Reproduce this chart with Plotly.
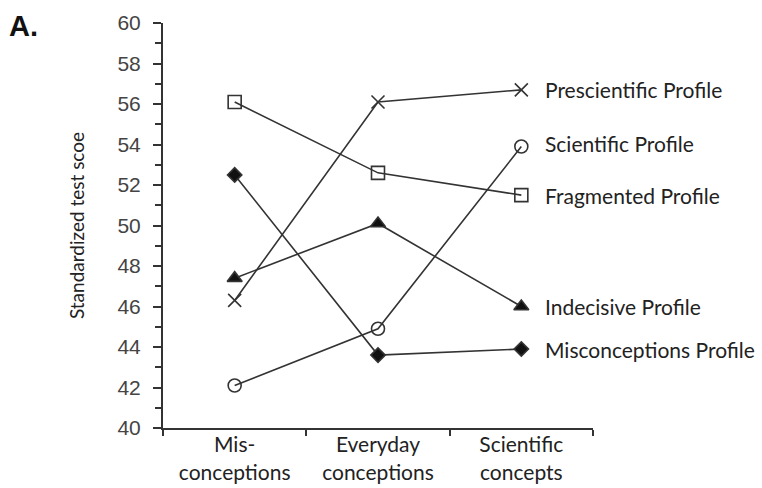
import plotly.graph_objects as go

categories = ["Mis-<br>conceptions", "Everyday<br>conceptions", "Scientific<br>concepts"]
series_names = ["Prescientific Profile", "Scientific Profile", "Fragmented Profile",
                "Indecisive Profile", "Misconceptions Profile"]
prescientific = [46.3, 56.1, 56.7]
scientific = [42.1, 44.9, 53.9]
fragmented = [56.1, 52.6, 51.5]
indecisive = [47.4, 50.1, 46.0]
misconceptions = [52.5, 43.6, 43.9]
y_ticks = list(range(40, 61, 2))

values = [prescientific, scientific, fragmented, indecisive, misconceptions]
symbols = ["x-thin-open", "circle-open", "square-open", "triangle-up", "diamond"]
sizes = [13, 13, 13, 13, 11]
label_dy = [0, -3, 0, 0, 0]

LINE = "#333333"
TXT_FONT = "Lato, Open Sans, sans-serif"
fig = go.Figure()
for name, vals, sym, sz in zip(series_names, values, symbols, sizes):
    fig.add_trace(go.Scatter(
        x=categories, y=vals, mode="lines+markers", name=name,
        line=dict(color=LINE, width=1.6),
        marker=dict(symbol=sym, size=sz, color="#111111" if "open" not in sym else "#333333",
                    line=dict(color="#333333", width=1.6)),
        cliponaxis=False,
    ))

for name, vals, dy in zip(series_names, values, label_dy):
    fig.add_annotation(x=categories[-1], y=vals[-1], text=name, xref="x", yref="y",
                       xanchor="left", yanchor="middle", showarrow=False,
                       xshift=22, yshift=-dy,
                       font=dict(family=TXT_FONT, size=21, color="#222222"))

fig.add_annotation(xref="paper", yref="paper", x=-156/430, y=1 + (23 - 26) / 405,
                   text="<b>A.</b>", showarrow=False, xanchor="left", yanchor="middle",
                   font=dict(family="Liberation Sans, Arial, sans-serif", size=29, color="#111111"))

fig.update_layout(
    width=762, height=488,
    margin=dict(l=163, r=169, t=23, b=60, autoexpand=False),
    paper_bgcolor="white", plot_bgcolor="white",
    showlegend=False,
    xaxis=dict(
        type="category", range=[-0.5, 2.5], tickson="boundaries", automargin=False,
        ticks="outside", ticklen=6, tickwidth=2, tickcolor=LINE, ticklabelstandoff=-3,
        showline=True, linecolor=LINE, linewidth=2, showgrid=False, zeroline=False,
        tickfont=dict(family=TXT_FONT, size=21, color="#222222"),
    ),
    yaxis=dict(
        range=[40, 60], tickvals=y_ticks, ticks="outside", ticklen=8, tickwidth=2,
        tickcolor=LINE, showline=True, linecolor=LINE, linewidth=2, automargin=False,
        showgrid=False, zeroline=False, ticklabelstandoff=8,
        minor=dict(dtick=1, ticks="outside", ticklen=6, tickwidth=2, tickcolor=LINE, showgrid=False),
        tickfont=dict(family="Liberation Sans, Arial, sans-serif", size=21, color="#444444"),
        title=dict(text="Standardized test scoe", standoff=28,
                   font=dict(family=TXT_FONT, size=19, color="#222222")),
    ),
)

fig.write_html("out.html")
